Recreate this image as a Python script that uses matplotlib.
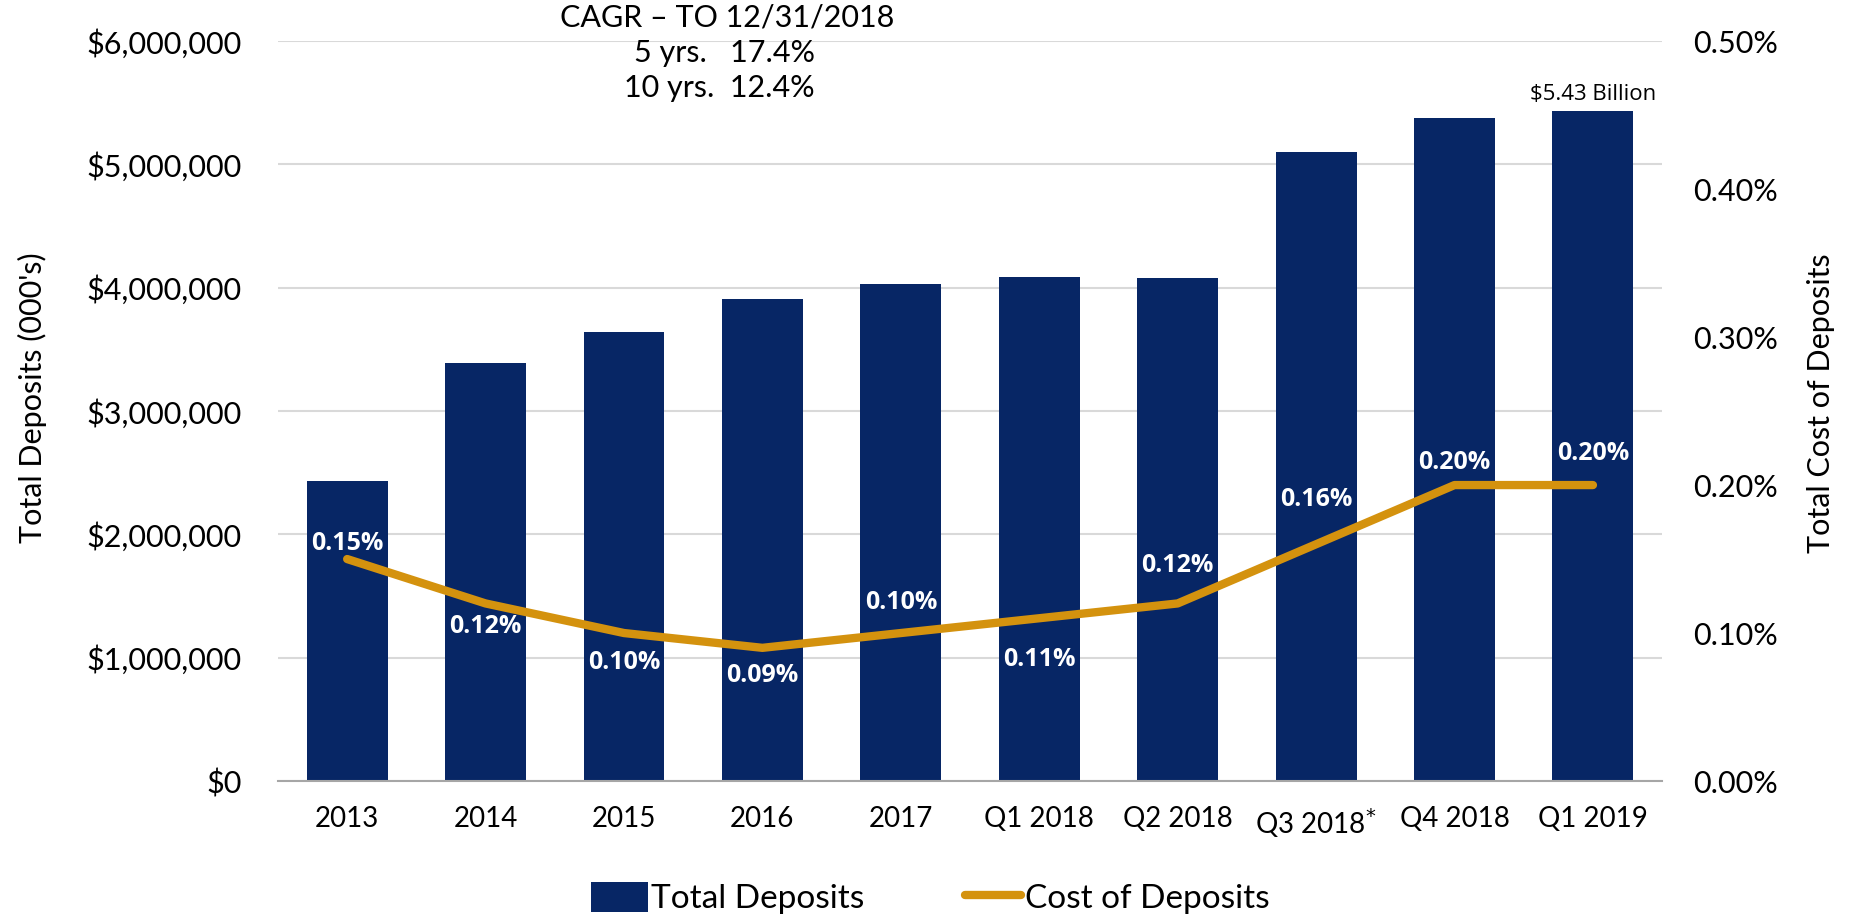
import numpy as np
import matplotlib.pyplot as plt
from matplotlib.ticker import FuncFormatter, MultipleLocator

plt.rcParams['font.family'] = ['Lato', 'DejaVu Sans']

# Data
periods = ['2013', '2014', '2015', '2016', '2017', 'Q1 2018', 'Q2 2018',
           'Q3 2018$^{*}$', 'Q4 2018', 'Q1 2019']
deposits = [2430000, 3390000, 3640000, 3910000, 4030000, 4090000, 4080000,
            5100000, 5380000, 5430000]
cost = [0.15, 0.12, 0.10, 0.09, 0.10, 0.11, 0.12, 0.16, 0.20, 0.20]
cost_labels = ['0.15%', '0.12%', '0.10%', '0.09%', '0.10%', '0.11%', '0.12%',
               '0.16%', '0.20%', '0.20%']
# vertical offset of each data label from its point, in points (+ above)
label_offset = [11, -16.5, -21.5, -20, 22, -30, 27, 32, 16.5, 23]

navy = '#072665'
gold = '#D4920E'

fig = plt.figure(figsize=(18.53, 9.14), dpi=100)
ax = fig.add_axes([0.150, 0.1455, 0.747, 0.8095])
x = np.arange(len(periods))

ax.bar(x, deposits, width=0.585, color=navy, zorder=2, label='Total Deposits')
ax.set_ylim(0, 6000000)
ax.set_xlim(-0.5, len(periods) - 0.5)
ax.yaxis.set_major_locator(MultipleLocator(1000000))
ax.yaxis.set_major_formatter(FuncFormatter(lambda v, p: '\\$' + format(int(v), ',')))
ax.grid(axis='y', color='#D9D9D9', linewidth=1.5, zorder=0)
ax.set_xticks(x)
ax.set_xticklabels(periods, fontsize=20)
ax.tick_params(axis='y', labelsize=22, length=0, pad=26)
ax.tick_params(axis='x', length=0, pad=18)
for s in ['top', 'right', 'left']:
    ax.spines[s].set_visible(False)
ax.spines['bottom'].set_color('#A6A6A6')
ax.spines['bottom'].set_linewidth(1.5)
ax.set_ylabel("Total Deposits (000's)", fontsize=22)
ax.yaxis.set_label_coords(-0.167, 0.518)

ax.text(x[-1], deposits[-1] + 50000, '\\$5.43 Billion', ha='center', va='bottom',
        fontsize=16, family=['Open Sans', 'DejaVu Sans'])

ax2 = ax.twinx()
ax2.plot(x, cost, color=gold, linewidth=6, solid_capstyle='round', zorder=3,
         label='Cost of Deposits')
ax2.set_ylim(0, 0.5)
ax2.yaxis.set_major_locator(MultipleLocator(0.1))
ax2.yaxis.set_major_formatter(FuncFormatter(lambda v, p: f'{v:.2f}%'))
ax2.tick_params(axis='y', labelsize=22, length=0, pad=22)
for s in ax2.spines.values():
    s.set_visible(False)
ax2.set_ylabel('Total Cost of Deposits', fontsize=22)
ax2.yaxis.set_label_coords(1.105, 0.511)

for xi, v, lab, off in zip(x, cost, cost_labels, label_offset):
    ax2.annotate(lab, (xi, v), xytext=(0, off), textcoords='offset points',
                 ha='center', va='center', color='white', fontsize=18,
                 fontweight='bold', family=['Open Sans', 'DejaVu Sans'])

fig.text(0.3925, 0.981, 'CAGR – TO 12/31/2018', ha='center', va='center', fontsize=22)
fig.text(0.4398, 0.942, '5 yrs.   17.4%', ha='right', va='center', fontsize=22)
fig.text(0.4398, 0.904, '10 yrs.  12.4%', ha='right', va='center', fontsize=22)

h1, l1 = ax.get_legend_handles_labels()
h2, l2 = ax2.get_legend_handles_labels()
fig.legend(h1 + h2, l1 + l2, loc='center', bbox_to_anchor=(0.502, 0.0175),
           ncol=2, frameon=False, fontsize=24, handlelength=1.7, handleheight=1.0,
           handletextpad=0.1, columnspacing=3.0, borderpad=0)

fig.savefig('out.png', dpi=100)
